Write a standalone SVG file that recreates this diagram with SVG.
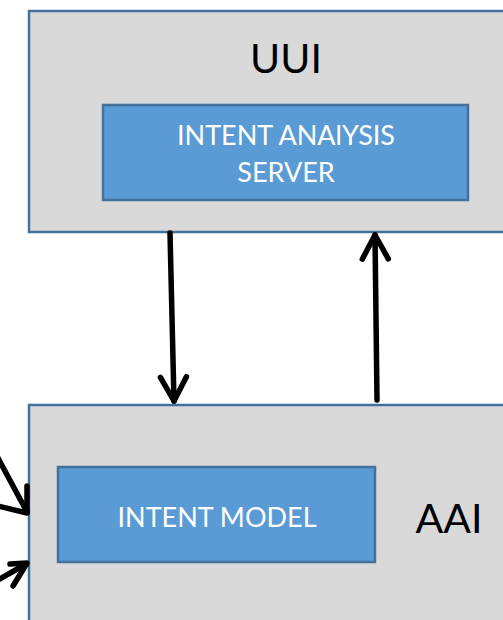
<svg xmlns="http://www.w3.org/2000/svg" width="503" height="620" viewBox="0 0 503 620">
<style>
.outer{fill:#d9d9d9;stroke:#41719c;stroke-width:2.5}
.inner{fill:#5b9bd5;stroke:#41719c;stroke-width:2.5}
.big{font-family:Lato,"Open Sans",sans-serif;font-size:41px;fill:#000}
.lbl{font-family:Lato,"Open Sans",sans-serif;font-size:27px;fill:#fff}
.conn{fill:none;stroke:#000;stroke-width:5.5;stroke-linecap:round;stroke-linejoin:round}
</style>
<defs>
<marker id="ah" markerUnits="userSpaceOnUse" markerWidth="40" markerHeight="40" refX="0" refY="0" viewBox="-20 -20 40 40" orient="auto" overflow="visible">
<path d="M-24,-13 L0,0 L-24,13" fill="none" stroke="#000" stroke-width="5.5" stroke-linecap="round" stroke-linejoin="round"/>
</marker>
</defs>
<g id="uui">
<rect class="outer" x="29" y="11" width="480" height="221"/>
<text class="big" x="286" y="73" text-anchor="middle">UUI</text>
</g>
<g id="intent-analysis-server">
<rect class="inner" x="103" y="105" width="365" height="95"/>
<text class="lbl" x="286" y="145" text-anchor="middle">INTENT ANAlYSIS</text>
<text class="lbl" x="286" y="182" text-anchor="middle">SERVER</text>
</g>
<g id="aai">
<rect class="outer" x="29" y="405" width="480" height="230"/>
<text class="big" x="449" y="533" text-anchor="middle">AAI</text>
</g>
<g id="intent-model">
<rect class="inner" x="58" y="467" width="317" height="95"/>
<text class="lbl" x="217" y="527" text-anchor="middle">INTENT MODEL</text>
</g>
<g id="connectors">
<path class="conn" d="M170,233 L174,401" marker-end="url(#ah)"/>
<path class="conn" d="M377,400 L375,235" marker-end="url(#ah)"/>
<path class="conn" d="M-2,458 L27,512"/>
<path class="conn" d="M27,486 L27,513 L-2,506"/>
<path class="conn" d="M-2,580 L26,564"/>
<path class="conn" d="M10,564 L27,563 L13,586"/>
</g>
</svg>
